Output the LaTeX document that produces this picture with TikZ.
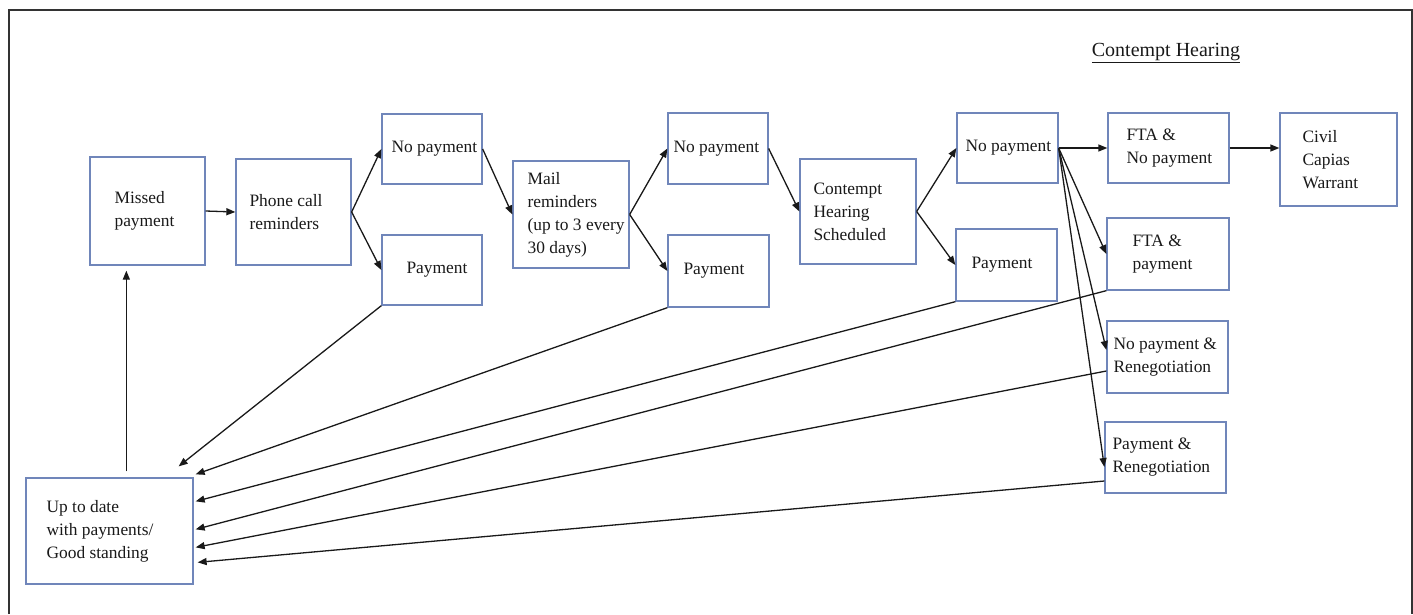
\documentclass[tikz,border=0pt]{standalone}
\usepackage{fontspec}
\setmainfont{Liberation Serif}
\usetikzlibrary{arrows.meta,calc}
\definecolor{boxc}{RGB}{112,134,186}
\definecolor{linec}{RGB}{25,25,25}
\newcommand\bx[7]{%
  \pgfmathsetmacro\bw{#4-#2}\pgfmathsetmacro\bh{#5-#3}%
  \pgfmathsetmacro\bcx{(#2+#4)/2}\pgfmathsetmacro\bcy{(#3+#5)/2}%
  \node[box,minimum width=\bw pt,minimum height=\bh pt] (#1) at (\bcx,\bcy) {};
  \node[lbl] (#1t) at ($(#1.west)+(#6,0)$) {#7};}
\begin{document}
\begin{tikzpicture}[x=1pt,y=-1pt,
  box/.style={draw=boxc,line width=1.3pt,inner sep=0pt},
  lbl/.style={anchor=west,align=left,inner sep=0pt,text=black!90,font=\fontsize{17.4}{23}\selectfont},
  arr/.style={draw=linec,line width=1.3pt,-{Triangle[length=9pt,width=7pt]}}]
\useasboundingbox (0,0) rectangle (1413,614);
\draw[line width=2pt,color=black!80] (9,614) -- (9,10) -- (1412,10) -- (1412,614);
\node[font=\fontsize{20}{24}\selectfont,inner sep=0pt,text=black!90] (title) at (1166,53) {\underline{Contempt Hearing}};
\bx{missed}{90}{157}{205}{265}{25}{Missed\\payment}
\bx{phone}{236}{159}{351}{265}{14}{Phone call\\reminders}
\bx{np1}{382}{114}{482}{184}{10}{No payment}
\bx{p1}{382}{235}{482}{305}{25}{Payment}
\bx{mail}{513}{161}{629}{268}{15}{Mail\\reminders\\(up to 3 every\\30 days)}
\bx{np2}{668}{113}{768}{184}{6}{No payment}
\bx{p2}{668}{235}{769}{307}{16}{Payment}
\bx{ch}{800}{159}{916}{264}{14}{Contempt\\Hearing\\Scheduled}
\bx{np3}{957}{113}{1058}{183}{9}{No payment}
\bx{p3}{956}{229}{1057}{301}{16}{Payment}
\bx{fta1}{1108}{113}{1229}{183}{19}{FTA \&\\No payment}
\bx{civil}{1280}{113}{1397}{206}{23}{Civil\\Capias\\Warrant}
\bx{fta2}{1107}{218}{1229}{290}{26}{FTA \&\\payment}
\bx{npr}{1107}{321}{1228}{393}{7}{No payment \&\\Renegotiation}
\bx{pr}{1105}{422}{1226}{493}{8}{Payment \&\\Renegotiation}
\bx{utd}{26}{478}{193}{584}{21}{Up to date\\with payments/\\Good standing}
% forward flow
\draw[arr] (missed.east) -- (phone.west);
\draw[arr] (phone.east) -- (np1.west);
\draw[arr] (phone.east) -- (p1.west);
\draw[arr] (np1.east) -- (mail.west);
\draw[arr] (mail.east) -- (np2.west);
\draw[arr] (mail.east) -- (p2.west);
\draw[arr] (np2.east) -- (ch.west);
\draw[arr] (ch.east) -- (np3.west);
\draw[arr] (ch.east) -- (p3.west);
\draw[arr] (np3.east) -- (fta1.west);
\draw[arr] (fta1.east) -- (fta1.east -| civil.west);
\draw[arr] (np3.east) -- (fta2.west);
\draw[arr] (np3.east) -- ($(npr.west)+(0,-7)$);
\draw[arr] (np3.east) -- ($(pr.west)+(0,9.5)$);
% return flow
\draw[arr] (p1.south west) -- ($(utd.north east)+(-15,-11)$);
\draw[arr] (p2.south west) -- ($(utd.north east)+(2,-3)$);
\draw[arr] (p3.south west) -- ($(utd.north east)+(2,24)$);
\draw[arr] (fta2.south west) -- ($(utd.north east)+(2,52)$);
\draw[arr] ($(npr.west)+(0,14)$) -- ($(utd.north east)+(2,70)$);
\draw[arr] ($(pr.west)+(0,23.5)$) -- ($(utd.north east)+(4,85)$);
\draw[arr] ($(utd.north west)+(101,-6)$) -- ($(missed.south west)+(37,5)$);
\end{tikzpicture}
\end{document}
